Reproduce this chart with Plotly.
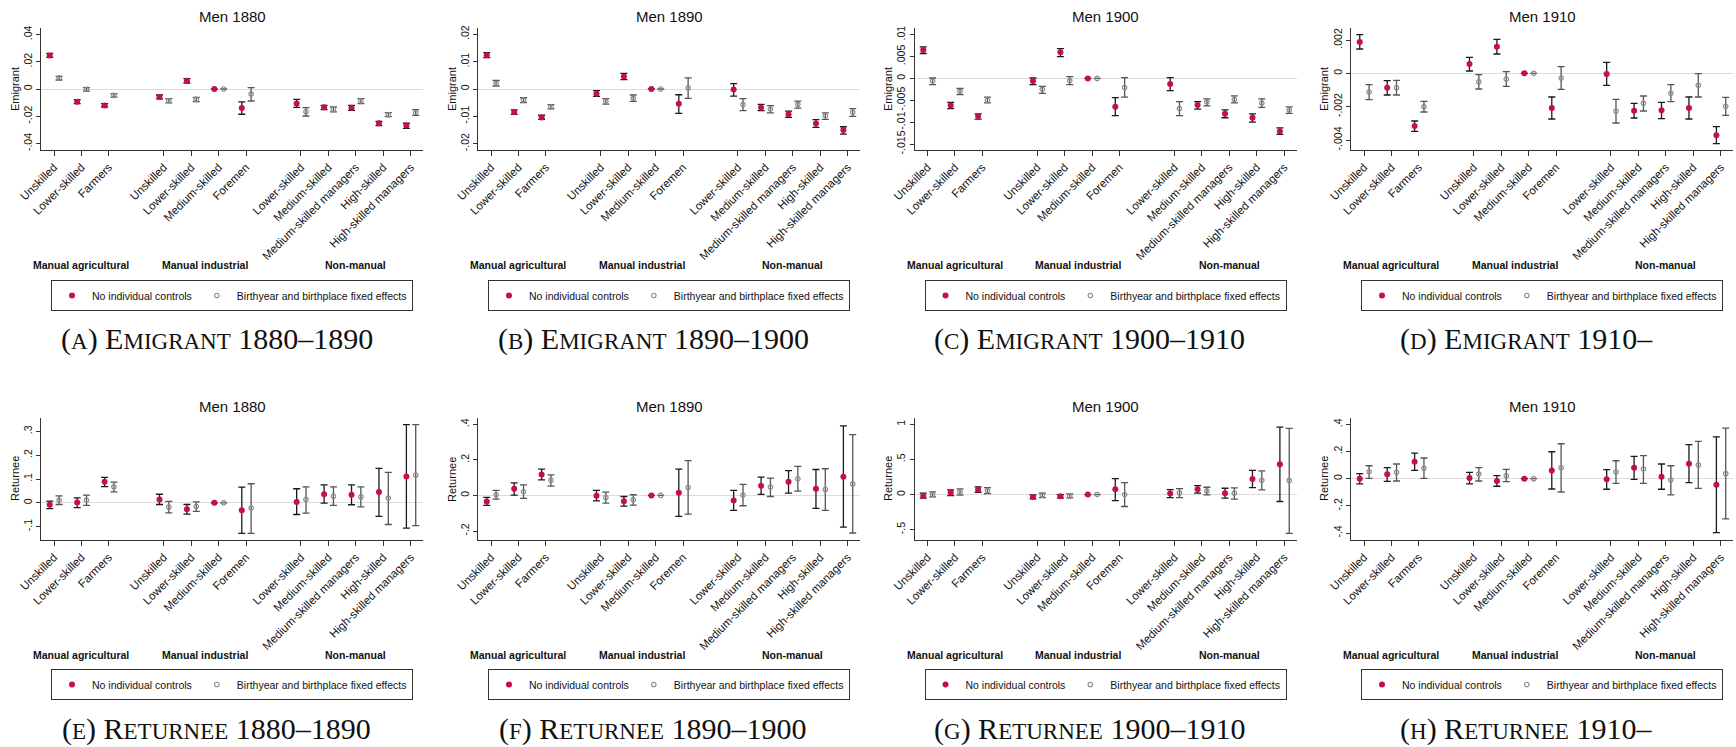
import plotly.graph_objects as go

W, H = 1736, 747
SANS = "Liberation Sans, Arial, Helvetica, sans-serif"
SERIF = "Liberation Serif, Times New Roman, serif"
RED = "#c8103c"
GRAY = "#8a8a8a"

# ---------------- categories ----------------
groups = ["Manual agricultural", "Manual industrial", "Non-manual"]
group_members = [
    ["Unskilled", "Lower-skilled", "Farmers"],
    ["Unskilled", "Lower-skilled", "Medium-skilled", "Foremen"],
    ["Lower-skilled", "Medium-skilled", "Medium-skilled managers",
     "High-skilled", "High-skilled managers"],
]
series_names = ["No individual controls", "Birthyear and birthplace fixed effects"]

# ---------------- data: (A) Emigrant, Men 1880 ----------------
emig1880_nc_est = [0.0246, -0.0093, -0.0120, -0.0059, 0.0061, 0, -0.0139, -0.0107, -0.0134, -0.0137, -0.0251, -0.0268]
emig1880_nc_lo = [0.0232, -0.0107, -0.0132, -0.0073, 0.0044, 0, -0.0185, -0.0134, -0.0151, -0.0156, -0.0268, -0.0288]
emig1880_nc_hi = [0.0261, -0.0078, -0.0107, -0.0044, 0.0076, 0, -0.0095, -0.0076, -0.0120, -0.0120, -0.0237, -0.0251]
emig1880_fe_est = [0.0081, -0.0002, -0.0046, -0.0085, -0.0076, 0, -0.0037, -0.0166, -0.0149, -0.0088, -0.0188, -0.0171]
emig1880_fe_lo = [0.0066, -0.0015, -0.0059, -0.0102, -0.0093, 0, -0.0088, -0.0198, -0.0168, -0.0107, -0.0203, -0.0193]
emig1880_fe_hi = [0.0093, 0.0010, -0.0034, -0.0071, -0.0061, 0, 0.0010, -0.0137, -0.0132, -0.0071, -0.0173, -0.0151]
emig1880_yticks = [-0.04, -0.02, 0, 0.02, 0.04]

# ---------------- (B) Emigrant, Men 1890 ----------------
emig1890_nc_est = [0.0123, -0.0084, -0.0104, -0.0017, 0.0046, 0, -0.0054, -0.0002, -0.0068, -0.0092, -0.0126, -0.0150]
emig1890_nc_lo = [0.0115, -0.0093, -0.0111, -0.0027, 0.0034, 0, -0.0089, -0.0026, -0.0079, -0.0104, -0.0140, -0.0165]
emig1890_nc_hi = [0.0133, -0.0076, -0.0096, -0.0006, 0.0057, 0, -0.0021, 0.0020, -0.0056, -0.0081, -0.0112, -0.0138]
emig1890_fe_est = [0.0021, -0.0040, -0.0065, -0.0045, -0.0034, 0, 0.0004, -0.0057, -0.0073, -0.0056, -0.0098, -0.0085]
emig1890_fe_lo = [0.0011, -0.0050, -0.0073, -0.0055, -0.0045, 0, -0.0034, -0.0079, -0.0087, -0.0070, -0.0111, -0.0100]
emig1890_fe_hi = [0.0031, -0.0032, -0.0057, -0.0035, -0.0022, 0, 0.0041, -0.0035, -0.0061, -0.0044, -0.0087, -0.0072]
emig1890_yticks = [-0.02, -0.01, 0, 0.01, 0.02]

# ---------------- (C) Emigrant, Men 1900 ----------------
emig1900_nc_est = [0.0065, -0.0062, -0.0086, -0.0006, 0.0060, 0, -0.0065, -0.0013, -0.0061, -0.0081, -0.0090, -0.0121]
emig1900_nc_lo = [0.0057, -0.0069, -0.0093, -0.0014, 0.0050, 0, -0.0085, -0.0028, -0.0070, -0.0090, -0.0100, -0.0128]
emig1900_nc_hi = [0.0072, -0.0055, -0.0081, 0.0001, 0.0068, 0, -0.0044, 0.0002, -0.0053, -0.0072, -0.0081, -0.0113]
emig1900_fe_est = [-0.0006, -0.0030, -0.0050, -0.0025, -0.0005, 0, -0.0021, -0.0069, -0.0054, -0.0048, -0.0056, -0.0072]
emig1900_fe_lo = [-0.0014, -0.0037, -0.0056, -0.0034, -0.0014, 0, -0.0043, -0.0085, -0.0063, -0.0056, -0.0066, -0.0080]
emig1900_fe_hi = [0.0001, -0.0023, -0.0043, -0.0018, 0.0004, 0, 0.0002, -0.0053, -0.0047, -0.0040, -0.0047, -0.0065]
emig1900_yticks = [-0.015, -0.01, -0.005, 0, 0.005, 0.01]

# ---------------- (D) Emigrant, Men 1910 ----------------
emig1910_nc_est = [0.00188, -0.00086, -0.00316, 0.00056, 0.00160, 0, -0.00208, -0.00004, -0.00224, -0.00222, -0.00208, -0.00372]
emig1910_nc_lo = [0.00146, -0.00130, -0.00348, 0.00014, 0.00116, 0, -0.00274, -0.00072, -0.00268, -0.00272, -0.00274, -0.00422]
emig1910_nc_hi = [0.00232, -0.00044, -0.00286, 0.00096, 0.00204, 0, -0.00142, 0.00066, -0.00180, -0.00174, -0.00142, -0.00320]
emig1910_fe_est = [-0.00112, -0.00086, -0.00200, -0.00050, -0.00034, 0, -0.00028, -0.00226, -0.00180, -0.00120, -0.00072, -0.00198]
emig1910_fe_lo = [-0.00158, -0.00130, -0.00232, -0.00094, -0.00078, 0, -0.00096, -0.00298, -0.00226, -0.00170, -0.00142, -0.00252]
emig1910_fe_hi = [-0.00068, -0.00042, -0.00168, -0.00008, 0.00010, 0, 0.00040, -0.00156, -0.00136, -0.00068, -0.00002, -0.00144]
emig1910_yticks = [-0.004, -0.002, 0, 0.002]

# ---------------- (E) Returnee, Men 1880 ----------------
ret1880_nc_est = [-0.008, 0.001, 0.088, 0.014, -0.027, 0, -0.031, 0.004, 0.036, 0.034, 0.045, 0.110]
ret1880_nc_lo = [-0.024, -0.020, 0.068, -0.007, -0.047, 0, -0.128, -0.049, -0.001, -0.008, -0.057, -0.106]
ret1880_nc_hi = [0.007, 0.021, 0.107, 0.036, -0.007, 0, 0.066, 0.059, 0.075, 0.075, 0.145, 0.328]
ret1880_fe_est = [0.011, 0.011, 0.067, -0.018, -0.015, 0, -0.022, 0.014, 0.028, 0.025, 0.020, 0.116]
ret1880_fe_lo = [-0.007, -0.011, 0.046, -0.042, -0.036, 0, -0.128, -0.043, -0.011, -0.017, -0.091, -0.096]
ret1880_fe_hi = [0.029, 0.032, 0.087, 0.006, 0.004, 0, 0.080, 0.067, 0.067, 0.067, 0.128, 0.328]
ret1880_yticks = [-0.1, 0, 0.1, 0.2, 0.3]

# ---------------- (F) Returnee, Men 1890 ----------------
ret1890_nc_est = [-0.034, 0.037, 0.118, -0.002, -0.032, 0, 0.015, -0.028, 0.054, 0.077, 0.037, 0.105]
ret1890_nc_lo = [-0.056, 0.002, 0.088, -0.030, -0.060, 0, -0.118, -0.084, 0.006, 0.013, -0.073, -0.178]
ret1890_nc_hi = [-0.011, 0.071, 0.148, 0.028, -0.006, 0, 0.148, 0.028, 0.103, 0.140, 0.146, 0.391]
ret1890_fe_est = [0.004, 0.021, 0.086, -0.011, -0.024, 0, 0.045, 0.002, 0.047, 0.094, 0.034, 0.065]
ret1890_fe_lo = [-0.021, -0.017, 0.052, -0.043, -0.054, 0, -0.105, -0.058, -0.006, 0.024, -0.084, -0.211]
ret1890_fe_hi = [0.028, 0.060, 0.116, 0.019, 0.004, 0, 0.196, 0.062, 0.097, 0.163, 0.150, 0.342]
ret1890_yticks = [-0.2, 0, 0.2, 0.4]

# ---------------- (G) Returnee, Men 1900 ----------------
ret1900_nc_est = [-0.019, 0.028, 0.071, -0.033, -0.024, 0, 0.076, 0.014, 0.076, 0.019, 0.222, 0.430]
ret1900_nc_lo = [-0.052, -0.014, 0.033, -0.061, -0.052, 0, -0.085, -0.043, 0.019, -0.052, 0.099, -0.099]
ret1900_nc_hi = [0.019, 0.066, 0.109, -0.005, 0.000, 0, 0.227, 0.071, 0.128, 0.090, 0.345, 0.960]
ret1900_fe_est = [0.000, 0.038, 0.057, -0.009, -0.019, 0, 0.000, 0.024, 0.052, 0.019, 0.203, 0.199]
ret1900_fe_lo = [-0.033, -0.009, 0.014, -0.043, -0.047, 0, -0.170, -0.043, -0.005, -0.066, 0.066, -0.553]
ret1900_fe_hi = [0.038, 0.080, 0.099, 0.019, 0.009, 0, 0.170, 0.085, 0.104, 0.095, 0.336, 0.941]
ret1900_yticks = [-0.5, 0, 0.5, 1]

# ---------------- (H) Returnee, Men 1910 ----------------
ret1910_nc_est = [0.000, 0.032, 0.125, 0.005, -0.017, 0, 0.061, -0.005, 0.081, 0.015, 0.110, -0.044]
ret1910_nc_lo = [-0.039, -0.020, 0.061, -0.039, -0.056, 0, -0.076, -0.078, -0.005, -0.078, -0.029, -0.397]
ret1910_nc_hi = [0.037, 0.081, 0.188, 0.047, 0.022, 0, 0.198, 0.066, 0.164, 0.108, 0.250, 0.308]
ret1910_fe_est = [0.051, 0.047, 0.076, 0.034, 0.022, 0, 0.081, 0.049, 0.071, -0.010, 0.100, 0.037]
ret1910_fe_lo = [0.002, -0.017, 0.002, -0.017, -0.022, 0, -0.098, -0.034, -0.034, -0.120, -0.071, -0.296]
ret1910_fe_hi = [0.095, 0.108, 0.152, 0.081, 0.069, 0, 0.257, 0.132, 0.169, 0.095, 0.274, 0.372]
ret1910_yticks = [-0.4, -0.2, 0, 0.2, 0.4]

panels = [
    dict(title="Men 1880", ytitle="Emigrant", caption="(a) Emigrant 1880–1890",
         nc=(emig1880_nc_est, emig1880_nc_lo, emig1880_nc_hi),
         fe=(emig1880_fe_est, emig1880_fe_lo, emig1880_fe_hi),
         yticks=emig1880_yticks, yrange=[-0.0447, 0.0447]),
    dict(title="Men 1890", ytitle="Emigrant", caption="(b) Emigrant 1890–1900",
         nc=(emig1890_nc_est, emig1890_nc_lo, emig1890_nc_hi),
         fe=(emig1890_fe_est, emig1890_fe_lo, emig1890_fe_hi),
         yticks=emig1890_yticks, yrange=[-0.0223, 0.0223]),
    dict(title="Men 1900", ytitle="Emigrant", caption="(c) Emigrant 1900–1910",
         nc=(emig1900_nc_est, emig1900_nc_lo, emig1900_nc_hi),
         fe=(emig1900_fe_est, emig1900_fe_lo, emig1900_fe_hi),
         yticks=emig1900_yticks, yrange=[-0.01637, 0.01153]),
    dict(title="Men 1910", ytitle="Emigrant", caption="(d) Emigrant 1910–",
         nc=(emig1910_nc_est, emig1910_nc_lo, emig1910_nc_hi),
         fe=(emig1910_fe_est, emig1910_fe_lo, emig1910_fe_hi),
         yticks=emig1910_yticks, yrange=[-0.0046, 0.00272]),
    dict(title="Men 1880", ytitle="Returnee", caption="(e) Returnee 1880–1890",
         nc=(ret1880_nc_est, ret1880_nc_lo, ret1880_nc_hi),
         fe=(ret1880_fe_est, ret1880_fe_lo, ret1880_fe_hi),
         yticks=ret1880_yticks, yrange=[-0.156, 0.356]),
    dict(title="Men 1890", ytitle="Returnee", caption="(f) Returnee 1890–1900",
         nc=(ret1890_nc_est, ret1890_nc_lo, ret1890_nc_hi),
         fe=(ret1890_fe_est, ret1890_fe_lo, ret1890_fe_hi),
         yticks=ret1890_yticks, yrange=[-0.2505, 0.4355]),
    dict(title="Men 1900", ytitle="Returnee", caption="(g) Returnee 1900–1910",
         nc=(ret1900_nc_est, ret1900_nc_lo, ret1900_nc_hi),
         fe=(ret1900_fe_est, ret1900_fe_lo, ret1900_fe_hi),
         yticks=ret1900_yticks, yrange=[-0.647, 1.09]),
    dict(title="Men 1910", ytitle="Returnee", caption="(h) Returnee 1910–",
         nc=(ret1910_nc_est, ret1910_nc_lo, ret1910_nc_hi),
         fe=(ret1910_fe_est, ret1910_fe_lo, ret1910_fe_hi),
         yticks=ret1910_yticks, yrange=[-0.4515, 0.4466]),
]

# ---------------- helpers ----------------
def stata_fmt(v):
    if v == 0:
        return "0"
    s = ("%g" % v)
    s = s.replace("0.", ".")
    return s


def smallcaps(s, small=23):
    out, buf = [], ""
    for ch in s:
        if ch.islower():
            buf += ch.upper()
        else:
            if buf:
                out.append('<span style="font-size:%dpx">%s</span>' % (small, buf))
                buf = ""
            out.append(ch)
    if buf:
        out.append('<span style="font-size:%dpx">%s</span>' % (small, buf))
    return "".join(out)


# category positions with a one-slot gap between groups
positions, ticktext, group_centers = [], [], []
p = 0
for members in group_members:
    start = p
    for m in members:
        positions.append(p)
        ticktext.append(m)
        p += 1
    group_centers.append((start + p - 1) / 2)
    p += 1

OFF_NC, OFF_FE = -0.155, 0.185
XRANGE = [-0.474, 13.45]

col_left = [41, 478, 914.5, 1351]
PLOT_W = 382
row_top = [28, 418]
PLOT_H = 122
ROW_DY = 390

fig = go.Figure()
layout = dict(
    width=W, height=H, margin=dict(l=0, r=0, t=0, b=0, pad=0),
    paper_bgcolor="white", plot_bgcolor="white",
    template="none", showlegend=True,
    font=dict(family=SANS, color="#111"),
)
annotations = []

for i, pn in enumerate(panels):
    k = i + 1
    row, col = divmod(i, 4)
    xname = "x" if k == 1 else "x%d" % k
    yname = "y" if k == 1 else "y%d" % k
    lname = "legend" if k == 1 else "legend%d" % k
    left = col_left[col]
    top = row_top[row]
    cx = left + PLOT_W / 2
    cy = top + PLOT_H / 2

    layout["xaxis" if k == 1 else "xaxis%d" % k] = dict(
        domain=[left / W, (left + PLOT_W) / W], anchor=yname,
        range=XRANGE, tickmode="array", tickvals=positions, ticktext=ticktext,
        tickangle=-45, showline=True, linecolor="#333", linewidth=1,
        ticks="outside", ticklen=5, tickcolor="#333", showgrid=False,
        zeroline=False, automargin=False,
        tickfont=dict(size=11.5, family=SANS, color="#111"),
    )
    layout["yaxis" if k == 1 else "yaxis%d" % k] = dict(
        domain=[1 - (top + PLOT_H) / H, 1 - top / H], anchor=xname,
        range=pn["yrange"], tickmode="array", tickvals=pn["yticks"],
        ticktext=[stata_fmt(v) for v in pn["yticks"]], tickangle=-90,
        showline=True, linecolor="#333", linewidth=1, ticks="outside",
        ticklen=4, tickcolor="#333", showgrid=False,
        zeroline=True, zerolinecolor="#dcdcdc", zerolinewidth=1,
        automargin=False, tickfont=dict(size=10.5, family=SANS, color="#111"),
    )

    est, lo, hi = pn["nc"]
    fig.add_trace(go.Scatter(
        x=[q + OFF_NC for q in positions], y=est, mode="markers",
        name=series_names[0], legend=lname, xaxis=xname, yaxis=yname,
        marker=dict(color=RED, size=6, line=dict(width=0)),
        error_y=dict(type="data", symmetric=False,
                     array=[h - e for h, e in zip(hi, est)],
                     arrayminus=[e - l for e, l in zip(est, lo)],
                     color="#1a1a1a", thickness=1.3, width=3.5),
        cliponaxis=False, hoverinfo="skip",
    ))
    est, lo, hi = pn["fe"]
    fig.add_trace(go.Scatter(
        x=[q + OFF_FE for q in positions], y=est, mode="markers",
        name=series_names[1], legend=lname, xaxis=xname, yaxis=yname,
        marker=dict(color=GRAY, size=4.5, symbol="circle-open",
                    line=dict(width=1.2, color=GRAY)),
        error_y=dict(type="data", symmetric=False,
                     array=[h - e for h, e in zip(hi, est)],
                     arrayminus=[e - l for e, l in zip(est, lo)],
                     color="#555555", thickness=1.3, width=3.5),
        cliponaxis=False, hoverinfo="skip",
    ))

    layout[lname] = dict(
        orientation="h", x=cx / W, xanchor="center",
        y=1 - (280 + row * 389) / H, yanchor="top",
        bordercolor="#333", borderwidth=1, bgcolor="white",
        font=dict(size=10.5, family=SANS, color="#111"),
        itemwidth=30, tracegroupgap=0,
    )

    # panel title
    annotations.append(dict(
        text=pn["title"], x=cx / W, y=1 - (16 + row * ROW_DY) / H,
        xref="paper", yref="paper", showarrow=False,
        xanchor="center", yanchor="middle",
        font=dict(size=15, family=SANS, color="#111"),
    ))
    # y-axis title
    ytx = [15, 452, 888, 1324][col]
    annotations.append(dict(
        text=pn["ytitle"], x=ytx / W, y=1 - cy / H, textangle=-90,
        xref="paper", yref="paper", showarrow=False,
        xanchor="center", yanchor="middle",
        font=dict(size=11, family=SANS, color="#111"),
    ))
    # group labels
    for g, gc in zip(groups, group_centers):
        annotations.append(dict(
            text="<b>%s</b>" % g, x=gc, xref=xname,
            y=1 - (265 + row * ROW_DY) / H, yref="paper",
            showarrow=False, xanchor="center", yanchor="middle",
            font=dict(size=10.5, family=SANS, color="#111"),
        ))
    # subfigure caption
    capx = 216.5 + col * 436.5
    annotations.append(dict(
        text=smallcaps(pn["caption"]), x=capx / W,
        y=1 - (339 + row * ROW_DY) / H, xref="paper", yref="paper",
        showarrow=False, xanchor="center", yanchor="middle",
        font=dict(size=30, family=SERIF, color="#111"),
    ))

layout["annotations"] = annotations
fig.update_layout(**layout)
fig.write_html(
    "out.html",
    config={"displayModeBar": False, "staticPlot": False},
    post_script="document.body.style.margin='0px';document.body.style.overflow='hidden';",
)
